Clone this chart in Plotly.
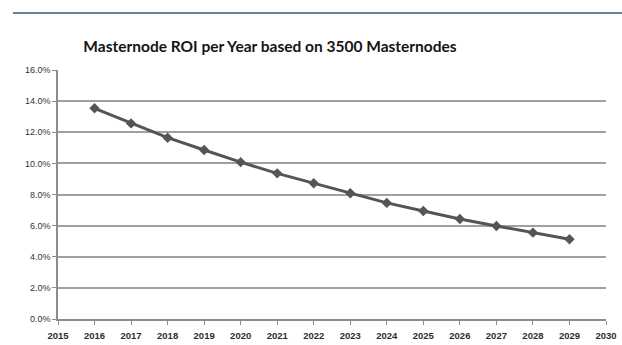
import plotly.graph_objects as go

years = [2016, 2017, 2018, 2019, 2020, 2021, 2022, 2023, 2024, 2025, 2026, 2027, 2028, 2029]
roi = [0.1354, 0.1257, 0.1165, 0.1086, 0.1008, 0.0936, 0.0872, 0.0808, 0.0746, 0.0694, 0.0643, 0.0598, 0.0555, 0.0512]
title = "Masternode ROI per Year based on 3500 Masternodes"

W, H = 622, 345
L, R, T, B = 58, 16, 70, 26

fig = go.Figure()
fig.add_trace(go.Scatter(
    x=years, y=roi, mode="lines+markers",
    line=dict(color="#555555", width=3),
    marker=dict(symbol="diamond", size=8, color="#555555"),
    showlegend=False, hoverinfo="skip",
))

fig.add_shape(type="line", xref="paper", yref="paper",
              xsizemode="pixel", xanchor=0, x0=13 - L, x1=W - L + 5,
              ysizemode="pixel", yanchor=1, y0=T - 13, y1=T - 13,
              line=dict(color="#3b5670", width=1.5))

fig.update_layout(
    width=W, height=H,
    margin=dict(l=L, r=R, t=T, b=B, autoexpand=False),
    paper_bgcolor="white", plot_bgcolor="white",
    title=dict(text=title, x=270 / W, xanchor="center", y=1 - 47 / H, yanchor="middle",
               font=dict(family="Lato", size=15.5, color="#141414", weight="bold")),
    font=dict(family="Liberation Sans", size=9, color="#333333"),
)
fig.update_xaxes(range=[2015, 2030], dtick=1, tick0=2015, showgrid=False,
                 showline=True, linecolor="#8c8c8c", linewidth=1.5,
                 ticks="outside", ticklen=4, tickcolor="#8c8c8c",
                 ticklabelstandoff=3, automargin=False,
                 tickfont=dict(family="Liberation Sans", size=9.5, color="#2e2e2e", weight="bold"),
                 zeroline=False, fixedrange=True)
fig.update_yaxes(range=[0, 0.16], dtick=0.02, tickformat=".1%", showgrid=True,
                 gridcolor="#a0a0a0", gridwidth=1.5, automargin=False,
                 showline=True, linecolor="#8c8c8c", linewidth=1.5,
                 ticks="outside", ticklen=4, tickcolor="#8c8c8c",
                 tickfont=dict(family="Liberation Sans", size=9, color="#333333"),
                 zeroline=False, fixedrange=True)

fig.write_html("out.html")
